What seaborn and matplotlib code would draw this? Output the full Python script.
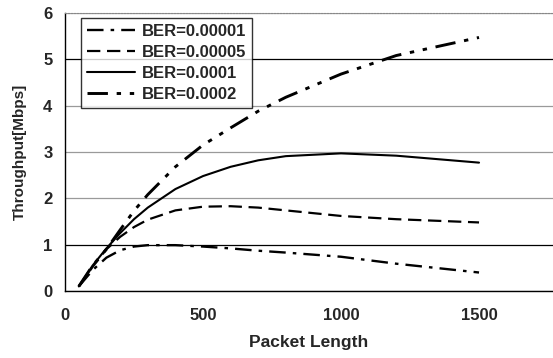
import pandas as pd
import matplotlib
matplotlib.use("Agg")
import matplotlib.pyplot as plt
import seaborn as sns

# packet length (x) and throughput [Mbps] for each BER curve
packet_len = [50, 100, 150, 200, 250, 300, 400, 500, 600, 700, 800, 1000, 1200, 1500]
ber_00001 = [0.10, 0.45, 0.72, 0.88, 0.96, 0.99, 0.99, 0.96, 0.92, 0.87, 0.83, 0.74, 0.59, 0.40]
ber_00005 = [0.10, 0.52, 0.90, 1.17, 1.38, 1.54, 1.74, 1.82, 1.83, 1.80, 1.74, 1.62, 1.55, 1.48]
ber_0001 = [0.10, 0.55, 0.92, 1.25, 1.55, 1.80, 2.20, 2.48, 2.68, 2.82, 2.91, 2.97, 2.92, 2.77]
ber_0002 = [0.10, 0.55, 0.90, 1.32, 1.73, 2.08, 2.68, 3.15, 3.52, 3.88, 4.18, 4.68, 5.08, 5.47]
labels = ["BER=0.00001", "BER=0.00005", "BER=0.0001", "BER=0.0002"]

df = pd.concat([
    pd.DataFrame({"len": packet_len, "tp": vals, "ber": lab})
    for lab, vals in zip(labels, [ber_00001, ber_00005, ber_0001, ber_0002])
], ignore_index=True)

sns.set_style("white")
plt.rcParams["font.family"] = ["Liberation Sans", "DejaVu Sans"]

fig = plt.figure(figsize=(5.53, 3.58), dpi=100)
ax = fig.add_axes([0.1175, 0.187, 0.8825, 0.777])

styles = {
    labels[0]: (0, (7, 3, 1.5, 3)),
    labels[1]: (0, (6, 3)),
    labels[2]: "-",
    labels[3]: (0, (7, 3, 1.5, 3, 1.5, 3)),
}
widths = {labels[0]: 1.7, labels[1]: 1.6, labels[2]: 1.5, labels[3]: 2.1}

for lab in labels:
    sub = df[df["ber"] == lab]
    sns.lineplot(data=sub, x="len", y="tp", ax=ax, color="black",
                 linestyle=styles[lab], linewidth=widths[lab], label=lab)

ax.set_xlim(0, 1768)
ax.set_ylim(0, 6)
ax.set_xticks([0, 500, 1000, 1500])
ax.set_yticks(range(0, 7))
ax.yaxis.grid(True, linewidth=0.9)
for i, gl in enumerate(ax.get_ygridlines()):
    gl.set_color("black" if i in (1, 5) else "#9a9a9a")
ax.tick_params(axis="x", direction="in", length=3, labelsize=12, pad=12)
ax.tick_params(axis="y", direction="in", length=0, labelsize=12, pad=9)
for t in ax.get_xticklabels() + ax.get_yticklabels():
    t.set_fontweight("bold")

ax.spines["right"].set_visible(False)
ax.spines["top"].set_color("#888888")
ax.spines["top"].set_linestyle(":")
for s in ("left", "bottom"):
    ax.spines[s].set_color("black")
    ax.spines[s].set_linewidth(1.0)

ax.set_xlabel("Packet Length", fontsize=12.5, fontweight="bold", labelpad=9)
ax.set_ylabel("Throughput[Mbps]", fontsize=11, fontweight="bold", labelpad=12)

leg = ax.legend(loc="upper left", bbox_to_anchor=(0.033, 0.982), fontsize=12,
                handlelength=2.9, frameon=True, fancybox=False,
                borderpad=0.35, labelspacing=0.36, handletextpad=0.4,
                borderaxespad=0)
leg.get_frame().set_edgecolor("black")
leg.get_frame().set_linewidth(1.0)
for t in leg.get_texts():
    t.set_fontweight("bold")

fig.savefig("out.png", dpi=100)
